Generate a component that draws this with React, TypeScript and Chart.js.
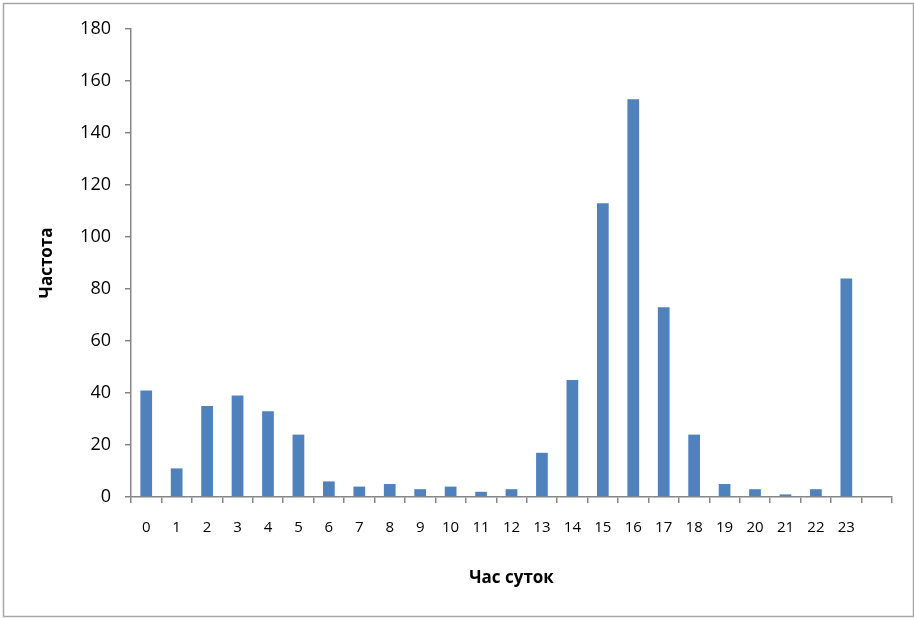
import React, { useEffect, useRef } from "react";
import { Chart, registerables } from "chart.js";

Chart.register(...registerables);

// Hours of the day (the trailing blank slot keeps the axis running one step past 23)
const hours: string[] = [
  "0", "1", "2", "3", "4", "5", "6", "7", "8", "9", "10", "11",
  "12", "13", "14", "15", "16", "17", "18", "19", "20", "21", "22", "23", "",
];

// Frequency per hour
const frequency: (number | null)[] = [
  41, 11, 35, 39, 33, 24, 6, 4, 5, 3, 4, 2,
  3, 17, 45, 113, 153, 73, 24, 5, 3, 1, 3, 84, null,
];

const yTicks = { min: 0, max: 180, step: 20 };

const AXIS_GREY = "#868686";
const BAR_BLUE = "#4F81BD";
const FONT = "'Open Sans', 'DejaVu Sans', sans-serif";

const frame = {
  id: "frame",
  beforeDraw(chart: Chart) {
    const ctx = chart.ctx;
    ctx.save();
    ctx.fillStyle = "#ffffff";
    ctx.fillRect(0, 0, chart.width, chart.height);
    ctx.strokeStyle = "#a6a6a6";
    ctx.lineWidth = 1.5;
    ctx.strokeRect(3.5, 3.5, 910, 613);
    ctx.restore();
  },
};

export default function App() {
  const ref = useRef<HTMLCanvasElement | null>(null);

  useEffect(() => {
    if (!ref.current) return;
    const chart = new Chart(ref.current, {
      type: "bar",
      data: {
        labels: hours,
        datasets: [
          {
            label: "Частота",
            data: frequency,
            backgroundColor: BAR_BLUE,
            barPercentage: 0.385,
            categoryPercentage: 1,
          },
        ],
      },
      options: {
        responsive: false,
        animation: false,
        devicePixelRatio: 1,
        layout: { padding: { left: 0, top: 29, right: 22, bottom: 0 } },
        plugins: {
          legend: { display: false },
          tooltip: { enabled: false },
        },
        scales: {
          x: {
            type: "category",
            offset: true,
            afterFit: (s: any) => {
              s.height = 121;
            },
            grid: {
              offset: true,
              drawOnChartArea: false,
              drawTicks: true,
              tickLength: 6,
              tickColor: AXIS_GREY,
              lineWidth: 1.5,
            },
            border: { color: AXIS_GREY, width: 1.5 },
            ticks: {
              color: "#000",
              font: { family: FONT, size: 15 },
              padding: 16,
              maxRotation: 0,
              autoSkip: false,
            },
            title: {
              display: true,
              text: "Час суток",
              color: "#000",
              font: { family: FONT, size: 17, weight: "bold" },
              padding: { top: 0, bottom: 30 },
            },
          },
          y: {
            min: yTicks.min,
            max: yTicks.max,
            afterFit: (s: any) => {
              s.width = 131;
            },
            grid: {
              drawOnChartArea: false,
              drawTicks: true,
              tickLength: 6,
              tickColor: AXIS_GREY,
              lineWidth: 1.5,
            },
            border: { color: AXIS_GREY, width: 1.5 },
            ticks: {
              stepSize: yTicks.step,
              color: "#000",
              font: { family: FONT, size: 18 },
              padding: 14,
            },
            title: {
              display: true,
              text: "Частота",
              color: "#000",
              font: { family: FONT, size: 17, weight: "bold" },
              padding: { top: 37, bottom: 0 },
            },
          },
        },
      },
      plugins: [frame],
    });
    return () => chart.destroy();
  }, []);

  return (
    <div style={{ position: "fixed", left: 0, top: 0, width: 914, height: 618, background: "#fff" }}>
      <canvas ref={ref} width={914} height={618} style={{ display: "block" }} />
    </div>
  );
}
